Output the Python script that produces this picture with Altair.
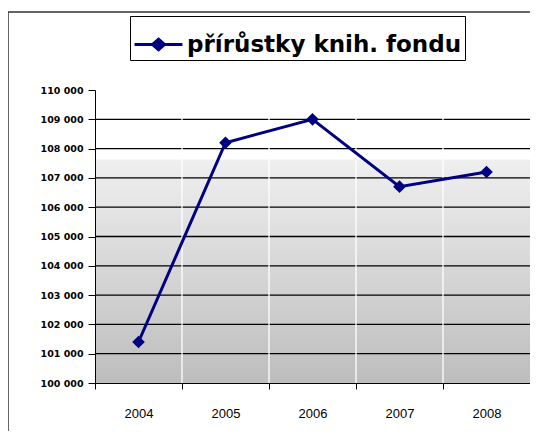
import altair as alt
import pandas as pd

years = ["2004", "2005", "2006", "2007", "2008"]
values = [101400, 108200, 109000, 106700, 107200]
series_name = "přírůstky knih. fondu"
y_ticks = list(range(100000, 110001, 1000))

W, H = 435, 293

df = pd.DataFrame({"rok": years, "hodnota": values, "serie": [series_name] * len(years)})
hgrid_df = pd.DataFrame({"v": y_ticks[1:-1]})
vgrid_df = pd.DataFrame({"rok": years[1:]})

x_scale = alt.Scale(type="band", paddingInner=0, paddingOuter=0, domain=years)
y_scale = alt.Scale(domain=[100000, 110000], nice=False, zero=False)

x_axis = alt.Axis(labelAngle=0, tickBand="extent", grid=False,
                  domainColor="#000000", tickColor="#000000",
                  tickSize=6, labelFontSize=13, labelFont="Liberation Sans",
                  labelColor="#000000", labelPadding=18, zindex=1)
y_axis = alt.Axis(values=y_ticks, grid=False, domainColor="#000000",
                  tickColor="#000000", tickSize=7, labelFontSize=9.5,
                  labelFont="DejaVu Sans", labelFontWeight="bold",
                  labelColor="#000000", labelPadding=5, zindex=1,
                  labelExpr="replace(format(datum.value, ','), ',', ' ')")

bg = alt.Chart(pd.DataFrame({"a": [0]})).mark_rect(
    fill=alt.Gradient(gradient="linear", x1=0, y1=0, x2=0, y2=1,
                      stops=[alt.GradientStop(offset=0, color="#ffffff"),
                             alt.GradientStop(offset=0.235, color="#ffffff"),
                             alt.GradientStop(offset=0.24, color="#efefef"),
                             alt.GradientStop(offset=1, color="#bdbdbd")]),
    stroke=None
).encode(x=alt.value(0), x2=alt.value(W), y=alt.value(0), y2=alt.value(H))

frame = alt.Chart(pd.DataFrame({"a": [0]})).mark_rect(
    fill=None, stroke="#333333", strokeWidth=1.5
).encode(x=alt.value(-87), x2=alt.value(500), y=alt.value(-78), y2=alt.value(420))

hgrid = alt.Chart(hgrid_df).mark_rule(color="#000000", strokeWidth=1.3).encode(
    y=alt.Y("v:Q", scale=y_scale, axis=y_axis, title=None)
)

vgrid = alt.Chart(vgrid_df).mark_rule(color="#ffffff", strokeWidth=1.3).encode(
    x=alt.X("rok:N", scale=x_scale, axis=x_axis, title=None, bandPosition=0)
)

line = alt.Chart(df).mark_line(
    strokeWidth=3,
    point=alt.OverlayMarkDef(shape="diamond", size=160, filled=True, color="#000080")
).encode(
    x=alt.X("rok:N", scale=x_scale, axis=x_axis, title=None),
    y=alt.Y("hodnota:Q", scale=y_scale, axis=y_axis, title=None),
    color=alt.Color("serie:N", title=None,
                    scale=alt.Scale(range=["#000080"]),
                    legend=alt.Legend(orient="none", legendX=35, legendY=-74,
                                      symbolType="M-1,0H1M0,-0.22L0.25,0L0,0.22L-0.25,0Z",
                                      symbolSize=2300, symbolStrokeWidth=3,
                                      symbolFillColor="#000080", symbolStrokeColor="#000080",
                                      labelFontSize=23, labelFont="DejaVu Sans",
                                      labelFontWeight="bold", labelColor="#000000",
                                      labelLimit=400, padding=3, strokeColor="#000000",
                                      fillColor="#ffffff", labelOffset=3))
)

chart = alt.layer(bg, frame, hgrid, vgrid, line).properties(
    width=W, height=H,
    autosize=alt.AutoSizeParams(type="none"),
    padding={"left": 87, "top": 82, "right": 0, "bottom": 48},
).configure_view(stroke="#999999", strokeWidth=1).configure(background="#ffffff")

chart.save("out.html", embed_options={"renderer": "svg", "actions": False})
